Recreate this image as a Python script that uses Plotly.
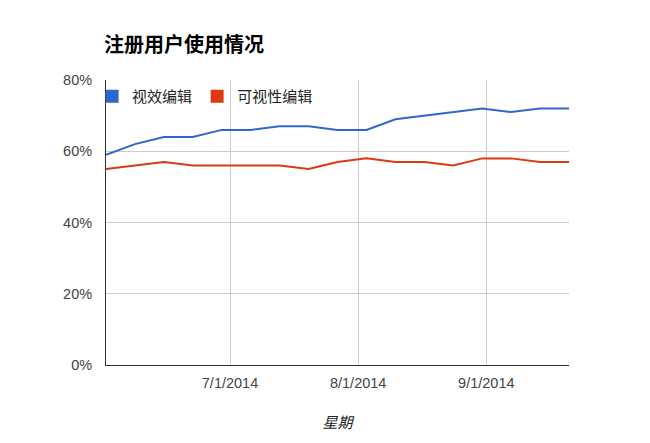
import plotly.graph_objects as go
import pandas as pd

weeks = pd.date_range("2014-06-01", periods=17, freq="7D")
visual_edit = [59, 62, 64, 64, 66, 66, 67, 67, 66, 66, 69, 70, 71, 72, 71, 72, 72]
visibility_edit = [55, 56, 57, 56, 56, 56, 56, 55, 57, 58, 57, 57, 56, 58, 58, 57, 57]
series_names = ["视效编辑", "可视性编辑"]
colors = ["#3366cc", "#dc3912"]
x_ticks = ["2014-07-01", "2014-08-01", "2014-09-01"]
y_ticks = [0, 20, 40, 60, 80]
y_tick_text = ["0%", "20%", "40%", "60%", "80%"]

FONT = "Liberation Sans, Arial, Noto Sans CJK SC, sans-serif"
W, H = 642, 435

fig = go.Figure()
for name, vals, col in zip(series_names, [visual_edit, visibility_edit], colors):
    fig.add_trace(go.Scatter(x=weeks, y=vals, mode="lines", name=name,
                             line=dict(color=col, width=2), showlegend=False))
for name, col in zip(series_names, colors):
    fig.add_trace(go.Scatter(x=[None], y=[None], mode="markers", name=name,
                             marker=dict(symbol="square", size=13, color=col)))

fig.update_layout(
    width=W, height=H,
    margin=dict(l=98, r=81, t=72, b=78),
    paper_bgcolor="white", plot_bgcolor="white",
    font=dict(family=FONT, size=14.5, color="#444"),
    title=dict(text="<b>注册用户使用情况</b>", x=96/W, xanchor="left",
               xref="container", y=1-37/H, yref="container", yanchor="middle",
               font=dict(size=20, color="#000", family=FONT)),
    legend=dict(orientation="h", x=-0.03, y=1.0, xanchor="left", yanchor="top",
                font=dict(size=15, color="#222"), bgcolor="rgba(0,0,0,0)",
                itemwidth=30, tracegroupgap=0),
    showlegend=True,
)
fig.update_xaxes(
    range=["2014-06-01", "2014-09-21"],
    tickvals=x_ticks, tickformat="%-m/%-d/%Y",
    showgrid=True, gridcolor="#cccccc", gridwidth=1,
    showline=True, linecolor="#333", linewidth=1,
    ticks="", ticklabelstandoff=5,
    title=dict(text="<i>星期</i>", font=dict(size=15, color="#222"), standoff=27),
)
fig.update_yaxes(
    range=[0, 80], tickmode="array", tickvals=y_ticks, ticktext=y_tick_text,
    showgrid=True, gridcolor="#cccccc", gridwidth=1,
    showline=True, linecolor="#333", linewidth=1,
    zeroline=False, ticks="", ticklabelstandoff=10,
)
fig.write_html("out.html")
